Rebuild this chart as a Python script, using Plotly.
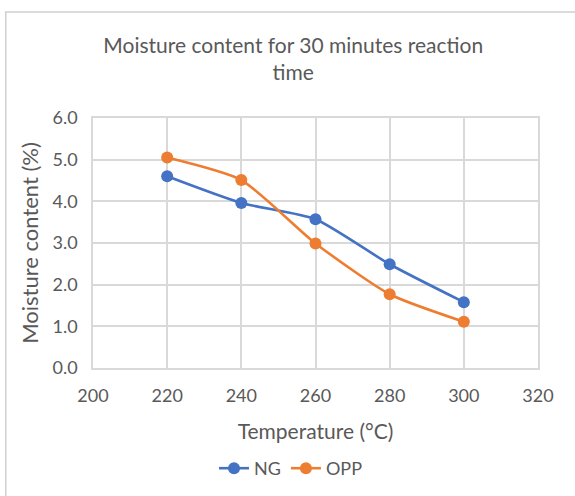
import plotly.graph_objects as go

temperature = [220, 240, 260, 280, 300]
ng_moisture = [4.60, 3.96, 3.57, 2.49, 1.58]
opp_moisture = [5.05, 4.51, 2.99, 1.77, 1.11]

BLUE = "#4472C4"
ORANGE = "#ED7D31"
TEXT = "#595959"
GRID = "#D9D9D9"
FONT = "Lato, 'Open Sans', sans-serif"

fig = go.Figure()
fig.add_trace(go.Scatter(
    x=temperature, y=ng_moisture, name="NG", mode="lines+markers",
    line=dict(color=BLUE, width=2.6, shape="spline", smoothing=0.6),
    marker=dict(color=BLUE, size=12),
))
fig.add_trace(go.Scatter(
    x=temperature, y=opp_moisture, name="OPP", mode="lines+markers",
    line=dict(color=ORANGE, width=2.6, shape="spline", smoothing=0.6),
    marker=dict(color=ORANGE, size=12),
))

# outer chart frame
fig.add_shape(type="rect", xref="paper", yref="paper",
              x0=-0.196, x1=1.2, y0=-0.6, y1=1.424,
              line=dict(color="#D0D0D0", width=1.5), layer="below")

fig.update_layout(
    width=575, height=496,
    margin=dict(l=93, r=37, t=118, b=128, autoexpand=False),
    paper_bgcolor="white", plot_bgcolor="white",
    font=dict(family=FONT, color=TEXT, size=18),
    title=dict(text="Moisture content for 30 minutes reaction<br>time",
               x=0.51, xanchor="center", y=0.893, yanchor="top",
               font=dict(size=21, color=TEXT, family=FONT)),
    xaxis=dict(range=[200, 320], dtick=20, tick0=200,
               showgrid=True, gridcolor=GRID, gridwidth=1.5,
               showline=True, linecolor=GRID, linewidth=1.5, mirror=True,
               zeroline=False, ticks="", ticklabelstandoff=11,
               tickfont=dict(size=18, color=TEXT),
               title=dict(text="Temperature (°C)", font=dict(size=21, color=TEXT), standoff=19)),
    yaxis=dict(range=[0, 6], dtick=1, tick0=0, tickformat=".1f",
               showgrid=True, gridcolor=GRID, gridwidth=1.5,
               showline=True, linecolor=GRID, linewidth=1.5, mirror=True,
               zeroline=False, ticks="", ticklabelstandoff=10,
               tickfont=dict(size=18, color=TEXT),
               title=dict(text="Moisture content (%)", font=dict(size=22, color=TEXT), standoff=8)),
    legend=dict(orientation="h", x=0.445, xanchor="center", y=-0.328, yanchor="top",
                font=dict(size=18, color=TEXT), itemwidth=30),
    showlegend=True,
)

fig.write_html("out.html")
